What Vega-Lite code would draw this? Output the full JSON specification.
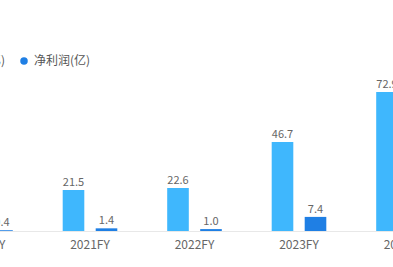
{
  "$schema": "https://vega.github.io/schema/vega-lite/v6.json",
  "width": 393,
  "height": 231,
  "autosize": "none",
  "padding": {"left": 0, "top": 0, "right": 0, "bottom": 36},
  "background": "white",
  "config": {
    "view": {"stroke": null},
    "font": "Noto Sans CJK SC"
  },
  "data": {
    "values": [
      {"year": "2020FY", "series": "营业收入(亿)", "value": 10.2},
      {"year": "2020FY", "series": "净利润(亿)", "value": 0.4},
      {"year": "2021FY", "series": "营业收入(亿)", "value": 21.5},
      {"year": "2021FY", "series": "净利润(亿)", "value": 1.4},
      {"year": "2022FY", "series": "营业收入(亿)", "value": 22.6},
      {"year": "2022FY", "series": "净利润(亿)", "value": 1.0},
      {"year": "2023FY", "series": "营业收入(亿)", "value": 46.7},
      {"year": "2023FY", "series": "净利润(亿)", "value": 7.4},
      {"year": "2024FY", "series": "营业收入(亿)", "value": 72.9},
      {"year": "2024FY", "series": "净利润(亿)", "value": 12.5}
    ]
  },
  "encoding": {
    "x": {
      "field": "year",
      "type": "nominal",
      "sort": ["2020FY", "2021FY", "2022FY", "2023FY", "2024FY"],
      "scale": {"range": [-66.75, 455.75], "paddingInner": 0, "paddingOuter": 0},
      "axis": {
        "title": null,
        "labelAngle": 0,
        "ticks": false,
        "domainColor": "#e8e8e8",
        "labelColor": "#666666",
        "labelFontSize": 12,
        "labelPadding": 8
      }
    },
    "xOffset": {
      "field": "series",
      "type": "nominal",
      "sort": ["营业收入(亿)", "净利润(亿)"],
      "scale": {"paddingInner": 0.345, "paddingOuter": 0.756}
    },
    "y": {
      "field": "value",
      "type": "quantitative",
      "scale": {"domain": [0, 121.2], "nice": false, "zero": true},
      "axis": null
    }
  },
  "layer": [
    {
      "mark": {"type": "bar"},
      "encoding": {
        "color": {
          "field": "series",
          "type": "nominal",
          "sort": ["营业收入(亿)", "净利润(亿)"],
          "scale": {"domain": ["营业收入(亿)", "净利润(亿)"], "range": ["#3fb7fd", "#1f7fe4"]},
          "legend": {
            "title": null,
            "orient": "none",
            "direction": "horizontal",
            "legendX": -79,
            "legendY": 55,
            "symbolType": "circle",
            "symbolSize": 56,
            "labelFontSize": 12,
            "labelColor": "#555555",
            "labelOffset": 4,
            "columnPadding": 12
          }
        }
      }
    },
    {
      "mark": {"type": "text", "baseline": "alphabetic", "dy": -4, "fontSize": 11, "color": "#666666"},
      "encoding": {
        "text": {"field": "value", "type": "quantitative", "format": ".1f"}
      }
    }
  ]
}
